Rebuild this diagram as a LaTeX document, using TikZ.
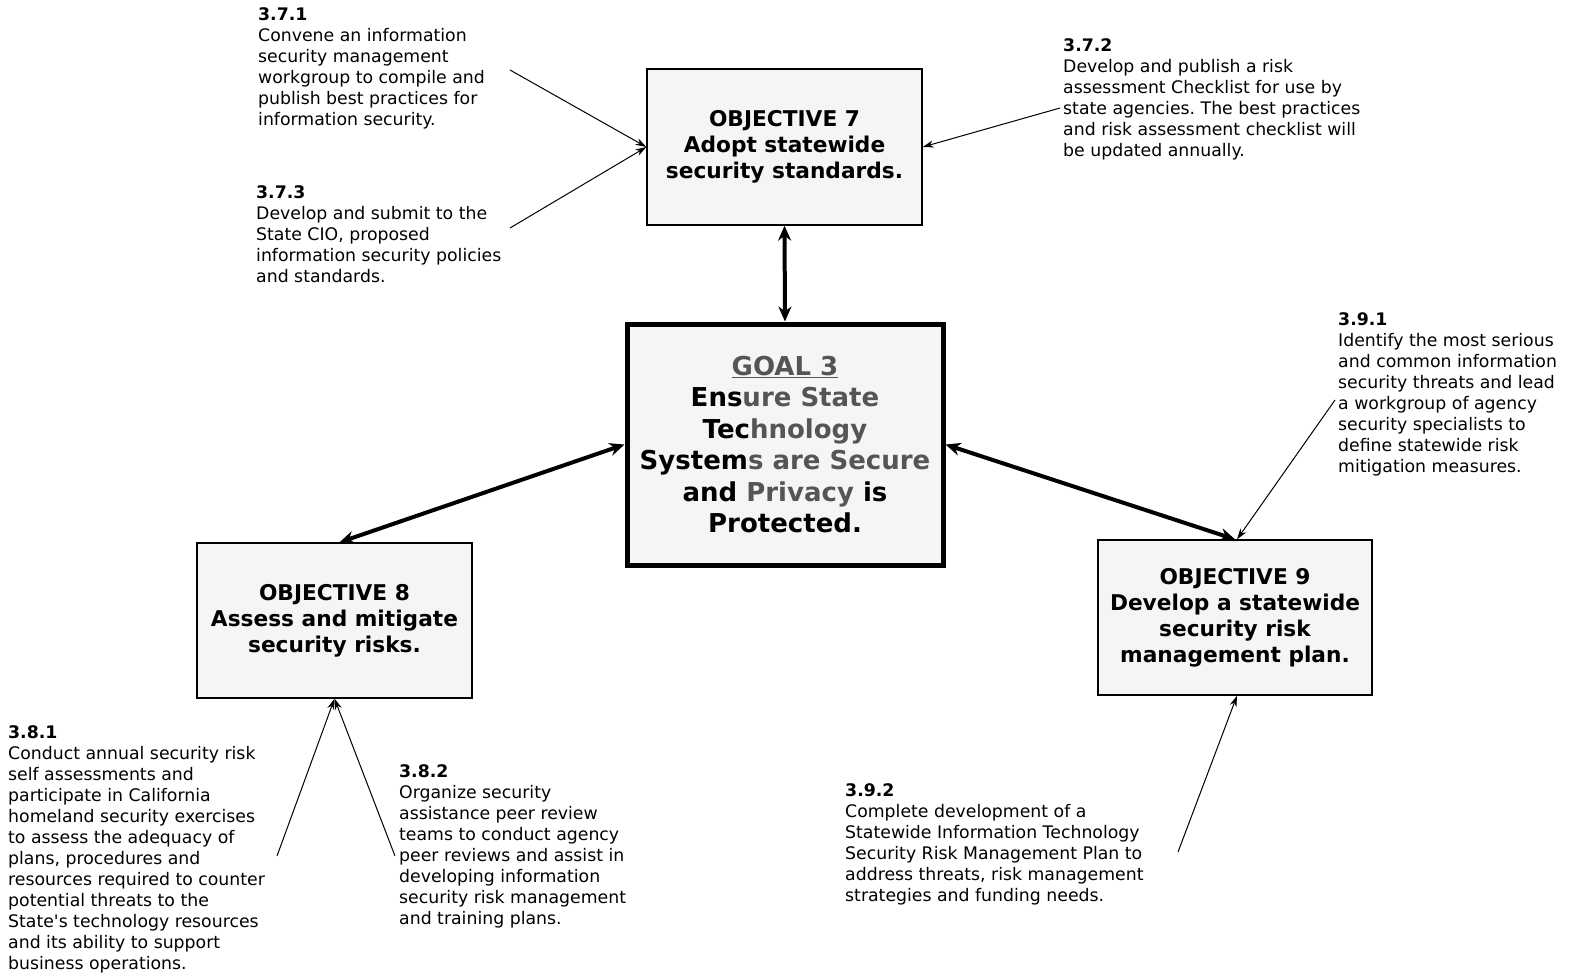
\documentclass[tikz,border=0pt]{standalone}
\usepackage{fontspec}
\setmainfont{DejaVu Sans}
\usetikzlibrary{arrows.meta,calc}
\definecolor{boxfill}{HTML}{F5F5F5}
\definecolor{scang}{HTML}{555555}
\frenchspacing
\begin{document}
\begin{tikzpicture}[x=1pt,y=-1pt,
  objbox/.style={draw=black,line width=1.3pt,fill=boxfill,align=center,inner sep=0pt,
    minimum width=275pt,minimum height=156pt,font=\fontsize{21.7}{26}\selectfont\bfseries},
  goalbox/.style={draw=black,line width=5pt,fill=boxfill,align=center,inner sep=0pt,
    minimum width=316pt,minimum height=241pt,font=\fontsize{26}{31.4}\selectfont\bfseries},
  note/.style={anchor=north west,align=left,inner sep=0pt,font=\fontsize{17.3}{21}\selectfont},
  thin/.style={line width=1pt,-{Stealth[length=11pt,width=7pt]}},
  thick/.style={line width=4pt,{Stealth[length=15pt,width=13pt]}-{Stealth[length=15pt,width=13pt]}}
]
\useasboundingbox (0,0) rectangle (1570,972);

\node[objbox] (obj7) at (784.5,147) {OBJECTIVE 7\\Adopt statewide\\security standards.};
\node[goalbox] (goal) at (785,444.5) {\textcolor{scang}{\underline{GOAL 3}}\\
  Ens\textcolor{scang}{ure State}\\
  Tec\textcolor{scang}{hnology}\\
  System\textcolor{scang}{s are Secure}\\
  and \textcolor{scang}{Privacy} is\\
  Protected.};
\node[objbox,minimum height=155pt] (obj8) at (334.5,620.5) {OBJECTIVE 8\\Assess and mitigate\\security risks.};
\node[objbox,minimum width=274pt,minimum height=155pt] (obj9) at (1235,617.5) {OBJECTIVE 9\\Develop a statewide\\security risk\\management plan.};

\node[note] (n371) at (258,7) {\textbf{3.7.1}\\Convene an information\\security management\\workgroup to compile and\\publish best practices for\\information security.};
\node[note] (n373) at (256,185) {\textbf{3.7.3}\\Develop and submit to the\\State CIO, proposed\\information security policies\\and standards.};
\node[note] (n372) at (1063,38) {\textbf{3.7.2}\\Develop and publish a risk\\assessment Checklist for use by\\state agencies. The best practices\\and risk assessment checklist will\\be updated annually.};
\node[note] (n391) at (1338,312) {\textbf{3.9.1}\\Identify the most serious\\and common information\\security threats and lead\\a workgroup of agency\\security specialists to\\define statewide risk\\mitigation measures.};
\node[note] (n381) at (8,725) {\textbf{3.8.1}\\Conduct annual security risk\\self assessments and\\participate in California\\homeland security exercises\\to assess the adequacy of\\plans, procedures and\\resources required to counter\\potential threats to the\\State\textquotesingle s technology resources\\and its ability to support\\business operations.};
\node[note] (n382) at (399,764) {\textbf{3.8.2}\\Organize security\\assistance peer review\\teams to conduct agency\\peer reviews and assist in\\developing information\\security risk management\\and training plans.};
\node[note] (n392) at (845,783) {\textbf{3.9.2}\\Complete development of a\\Statewide Information Technology\\Security Risk Management Plan to\\address threats, risk management\\strategies and funding needs.};

\coordinate (c371) at (510,70);
\coordinate (c373) at (510,228);
\coordinate (c372) at (1060,108);
\coordinate (c391) at (1335,400);
\coordinate (c392) at (1178,852);
\coordinate (c381) at (277,856);
\coordinate (c382) at (395,856);

\draw[thick] (goal.north) -- (obj7.south);
\draw[thick] (goal.west) -- ($(obj8.north)+(5,0)$);
\draw[thick] (goal.east) -- (obj9.north);

\draw[thin] (c371) -- (obj7.west);
\draw[thin] (c373) -- (obj7.west);
\draw[thin] (c372) -- (obj7.east);
\draw[thin] (c391) -- ($(obj9.north)+(2,0)$);
\draw[thin] (c392) -- ($(obj9.south)+(2,0)$);
\draw[thin] (c381) -- (obj8.south);
\draw[thin] (c382) -- (obj8.south);
\end{tikzpicture}
\end{document}
